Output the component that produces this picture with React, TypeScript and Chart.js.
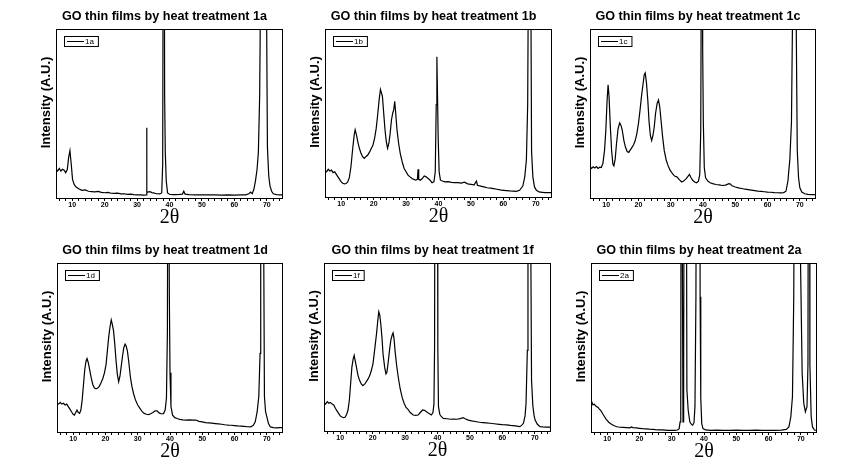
import React, { useEffect, useRef } from 'react';
import { Chart, registerables } from 'chart.js';

Chart.register(...registerables);

// ---------------- data ----------------
const TITLE_PREFIX = 'GO thin films by heat treatment ';
const Y_TITLE = 'Intensity (A.U.)';
const X_TITLE = '2θ';
const X_MIN = 5;
const X_MAX = 75;
const Y_MIN = 0;
const Y_MAX = 100;
const majorTicks = [10, 20, 30, 40, 50, 60, 70];
const minorTicks = [6, 8, 12, 14, 16, 18, 22, 24, 26, 28, 32, 34, 36, 38, 42, 44, 46, 48, 52, 54, 56, 58, 62, 64, 66, 68, 72, 74];

const samples = ['1a', '1b', '1c', '1d', '1f', '2a'];

const angles1a = [5, 5.5, 6, 6.5, 7, 7.5, 8, 8.5, 8.9, 9.3, 9.7, 10.1, 10.6, 11.2, 12, 13, 14, 15, 16, 17, 18, 19, 20, 21, 22, 23, 24, 25, 26, 27, 28, 29, 30, 31, 32, 32.85, 32.95, 33.05, 33.3, 34, 34.5, 35, 36, 37, 37.6, 37.9, 38.1, 38.3, 38.5, 38.7, 39.0, 39.4, 40, 41, 42, 43, 44, 44.4, 44.8, 46, 48, 50, 52, 54, 56, 58, 60, 62, 63.5, 64.5, 65, 65.5, 66, 66.5, 67, 67.4, 67.8, 68.2, 69, 69.8, 70.2, 70.6, 71, 71.5, 72, 73, 74, 75];
const counts1a = [17, 16, 17.5, 16, 17, 16.5, 15, 17, 24, 28, 20, 11, 8, 6.5, 5.5, 4.5, 4.8, 4, 3.8, 3.6, 3.9, 3.3, 3.1, 3.3, 2.8, 2.7, 2.9, 2.4, 2.5, 2.2, 2.3, 2, 1.9, 1.8, 1.7, 1.8, 41.5, 3.8, 3.5, 3.8, 3.2, 3, 2.5, 2.4, 3, 20, 200, 250, 60, 27, 10, 3, 2.2, 2, 2, 2.1, 2.3, 4, 2.3, 2, 1.9, 1.8, 1.9, 1.8, 1.7, 1.8, 1.7, 1.8, 1.9, 2.5, 3.5, 2.5, 5, 10, 17, 27, 60, 150, 300, 150, 30, 13, 7, 4, 2.5, 2, 1.8, 1.8];

const angles1b = [5, 5.5, 6, 6.5, 7, 7.5, 8, 8.5, 9, 9.5, 10, 10.5, 11, 11.5, 12, 12.5, 13, 13.5, 14, 14.3, 14.7, 15.1, 15.6, 16.1, 16.6, 17.1, 17.6, 18.2, 18.8, 19.3, 19.8, 20.3, 20.8, 21.3, 21.7, 22.1, 22.4, 22.7, 23.1, 23.5, 23.9, 24.3, 24.7, 25.1, 25.5, 25.9, 26.2, 26.5, 26.8, 27.2, 27.7, 28.2, 28.8, 29.4, 30, 30.6, 31.2, 31.8, 32.4, 33, 33.5, 33.7, 33.9, 34.4, 35, 35.6, 36.2, 36.8, 37.4, 38, 38.6, 39.0, 39.3, 39.5, 39.7, 39.9, 40.2, 40.6, 41.2, 42, 43, 44, 45, 46, 47, 48, 49, 50, 51, 51.7, 52, 53, 54, 55, 56, 57, 58, 59, 60, 61, 62, 63, 64, 65, 66, 66.6, 67.1, 67.5, 67.9, 68.3, 68.7, 69.1, 69.6, 70.2, 71, 72, 73, 74, 75];
const counts1b = [16, 15, 16.5, 15.5, 16, 14.5, 15, 13.5, 12, 10.5, 9, 8.2, 7.8, 8, 9, 11.5, 18, 28, 37, 40, 37, 33, 29, 26, 24, 23, 24, 25, 27, 29, 31, 35, 41, 50, 58, 64, 62, 60, 50, 40, 33, 29, 32, 38, 46, 50, 52, 57, 50, 40, 32, 26, 21, 17, 15, 13, 12, 11, 10.5, 10, 10.5, 16.5, 10.5, 10, 11, 12.5, 12, 11, 10, 8.5, 9, 15, 55, 83.5, 60, 35, 15, 10, 9.5, 9, 9.2, 8.7, 8.5, 8.6, 8.3, 8.8, 7.8, 7.5, 7.2, 9.5, 7, 6.5, 6, 5.5, 5.3, 5, 4.6, 4.2, 4, 3.8, 3.6, 3.5, 3.4, 4, 6.5, 12, 22, 55, 200, 200, 27, 12, 6, 4, 3, 2.8, 2.6, 2.6, 2.6];

const angles1c = [5, 5.5, 6, 6.5, 7, 7.5, 8, 8.5, 9, 9.5, 9.9, 10.3, 10.6, 10.9, 11.3, 11.7, 12.1, 12.4, 12.8, 13.2, 13.7, 14.2, 14.6, 15, 15.5, 16, 16.5, 17, 17.5, 18, 18.5, 19, 19.5, 20, 20.5, 21, 21.4, 21.8, 22.1, 22.5, 22.9, 23.3, 23.7, 24.1, 24.5, 24.9, 25.3, 25.8, 26.2, 26.6, 27, 27.5, 28, 28.6, 29.2, 29.8, 30.5, 31.2, 31.9, 32.6, 33.4, 34, 34.8, 35.4, 35.8, 36.3, 36.8, 37.4, 38, 38.6, 39.0, 39.3, 39.5, 39.7, 39.9, 40.1, 40.4, 40.8, 41.5, 42.2, 43, 44, 45, 46, 47, 48, 48.5, 49, 50, 51, 52, 53, 54, 55, 56, 57, 58, 59, 60, 61, 62, 63, 64, 65, 65.7, 66.3, 66.9, 67.4, 67.8, 68.3, 68.8, 69.2, 69.6, 70, 70.6, 71.5, 72.5, 73.5, 75];
const counts1c = [18.5, 17.5, 18.5, 17.8, 18.6, 17.5, 18.2, 18, 20.5, 28, 40, 58, 67, 60, 42, 28, 20, 19, 23, 32, 41, 44.5, 43, 40, 34, 30, 27.5, 27, 28.5, 30, 31.5, 34, 38, 44, 52, 61, 67, 73, 74, 68, 58, 45, 37, 34, 37, 42, 50, 56, 58, 54, 46, 36, 28, 22.5, 19, 16.5, 14.5, 13, 12.5, 11, 9.5, 10, 11.5, 13, 14, 12, 10.5, 9.5, 9, 10, 14, 40, 150, 150, 88, 45, 18, 12, 10, 9, 8.5, 8, 7.8, 7.4, 7.6, 8.5, 8.2, 7.2, 6.5, 6, 5.6, 5.2, 5, 4.7, 4.4, 4.1, 3.9, 3.7, 3.5, 3.4, 3.2, 3.1, 3, 3.2, 4, 10, 23, 45, 120, 300, 120, 28, 12, 6, 3.5, 2.5, 2.2, 2, 2];

const angles1d = [5, 5.5, 6, 6.5, 7, 7.5, 8, 8.5, 9, 9.5, 10, 10.4, 10.8, 11.2, 11.6, 12, 12.4, 12.8, 13.2, 13.6, 14, 14.3, 14.7, 15.1, 15.6, 16.1, 16.6, 17.1, 17.6, 18.1, 18.6, 19.2, 19.7, 20.2, 20.6, 21, 21.4, 21.8, 22.1, 22.5, 22.9, 23.3, 23.7, 24.1, 24.5, 24.9, 25.3, 25.7, 26.1, 26.4, 26.8, 27.2, 27.7, 28.2, 28.7, 29.3, 30, 30.7, 31.4, 32, 32.7, 33.4, 34, 34.7, 35.4, 36, 36.6, 37.2, 38, 38.5, 38.9, 39.2, 39.4, 39.6, 39.8, 40.0, 40.3, 40.8, 41.5, 42.2, 43, 44, 45, 46, 47, 48, 49, 50, 51, 52, 53, 54, 55, 56, 57, 58, 59, 60, 61, 62, 63, 64, 65, 65.8, 66.4, 67, 67.5, 67.9, 68.1, 68.4, 68.8, 69.05, 69.25, 69.6, 70, 70.5, 71.1, 72, 73, 74, 75];
const counts1d = [17, 16.5, 17.5, 16.5, 17, 16, 16.5, 15, 13.5, 12, 10.5, 10, 11.5, 13, 11.5, 11, 13, 19, 28, 37, 42, 43.5, 41, 37, 32, 28, 26, 25.5, 26, 27, 29, 31.7, 35, 40, 48, 56, 62, 66.3, 64, 60, 52, 42, 34, 29.7, 33, 39, 45, 50, 52, 51, 48, 42, 33, 27, 22.8, 19, 16, 14, 12, 11, 10.5, 10.3, 10.8, 11.5, 12.5, 12.5, 11.3, 10.8, 10.9, 13, 20, 60, 250, 250, 80, 35, 15, 10, 8.5, 8, 7.5, 7.2, 7, 7.2, 7, 7.1, 6.3, 6, 5.6, 5.4, 5.2, 5, 4.8, 4.6, 4.3, 4.1, 4, 3.8, 3.6, 3.5, 3.3, 3.1, 3, 4, 6, 12, 21, 46.5, 100, 300, 300, 100, 21, 12, 9, 5, 3, 2.6, 2.5, 2.6, 2.6];

const angles1f = [5, 5.5, 6, 6.5, 7, 7.5, 8, 8.5, 9, 9.5, 10, 10.5, 11, 11.5, 12, 12.4, 12.8, 13.2, 13.6, 14, 14.3, 14.6, 15, 15.5, 16, 16.5, 17, 17.6, 18.1, 18.6, 19.1, 19.6, 20.1, 20.6, 21.2, 21.6, 21.9, 22.2, 22.5, 22.9, 23.2, 23.7, 24.1, 24.4, 24.8, 25.2, 25.6, 26, 26.3, 26.6, 26.9, 27.4, 27.9, 28.5, 29.1, 29.7, 30.3, 30.9, 31.6, 32.5, 33.3, 34, 34.7, 35.4, 36, 36.6, 37.3, 38.1, 38.6, 38.9, 39.1, 39.3, 39.9, 40.1, 40.3, 40.7, 41.2, 41.8, 43, 44, 45, 46, 47, 47.9, 48.5, 49.5, 50.5, 52, 53, 54, 55, 56.2, 57.5, 59, 60, 61.3, 62.5, 64, 65.4, 66, 66.5, 67, 67.3, 67.7, 67.9, 68.2, 68.6, 68.8, 69, 69.4, 69.8, 70.1, 70.8, 71.6, 72.5, 73.5, 75];
const counts1f = [17, 16, 17.5, 16.5, 17, 16, 15.5, 13.5, 12, 10.5, 9, 8.3, 8, 8.2, 10, 12.5, 18, 28, 38, 43, 45, 42, 38, 33, 30, 28, 27, 28, 29.5, 31, 33, 36, 40, 48, 58, 66, 71, 69, 64, 55, 46, 38, 34, 35, 41, 48, 54, 57, 58.4, 55, 48, 39, 32, 25, 20, 16.5, 14, 12.9, 11, 9.5, 9.3, 9.5, 11, 12.5, 12.3, 11.5, 10.5, 9.5, 11, 16, 50, 300, 300, 50, 14.5, 10, 8.5, 7.5, 7.3, 7, 7.1, 7, 7.4, 8, 7.3, 6.5, 6, 5.5, 5.2, 5, 4.8, 4.6, 4.3, 4, 3.8, 3.6, 3.3, 3, 2.6, 3.5, 4.6, 9, 16.4, 48, 150, 300, 300, 100, 30, 15, 9, 6.5, 4, 2.6, 2.4, 2.3, 2.3];

const angles2a = [5, 5.3, 5.6, 6, 6.4, 6.8, 7.2, 7.6, 8, 8.4, 8.8, 9.2, 9.6, 10, 10.5, 11, 12, 13, 14, 15, 16, 17, 17.5, 18, 19, 20, 21, 22, 23, 24, 25, 26, 27, 28, 29, 30, 31, 31.8, 32.3, 32.6, 32.8, 33.0, 33.3, 33.5, 33.7, 34.0, 34.4, 34.7, 35.1, 35.6, 36.1, 36.5, 36.9, 37.2, 37.5, 37.8, 38.6, 38.8, 39.0, 39.3, 39.7, 40.5, 42, 44, 46, 48, 50, 52, 54, 56, 58, 60, 62, 64, 65.5, 66.3, 66.9, 67.4, 67.8, 68.3, 69.5, 69.9, 70.4, 70.9, 71.4, 71.9, 72.2, 72.4, 72.6, 72.8, 73.2, 73.6, 74.2, 75];
const counts2a = [16.8, 17.5, 16, 16.5, 15.5, 15, 14.5, 13.5, 12.8, 11.5, 10.2, 9, 7.8, 6.9, 5.8, 5, 3.8, 3.1, 2.8, 2.7, 2.6, 2.5, 3, 2.6, 2.4, 2.2, 2, 1.9, 1.7, 1.6, 1.4, 1.3, 1.2, 1.1, 1, 1, 1, 1.2, 2, 6, 20, 300, 100, 6, 40, 300, 300, 25, 13, 6, 4.5, 4, 5.5, 15, 80, 300, 300, 80, 20, 5, 2, 1.2, 1, 1.1, 1, 1, 1.1, 1, 1, 1.1, 1, 1, 1, 1.1, 1.5, 3, 9, 21, 80, 300, 300, 100, 35, 17, 12, 15, 40, 300, 300, 40, 9, 3, 1.2, 1];

const seriesAngles = [angles1a, angles1b, angles1c, angles1d, angles1f, angles2a];
const seriesCounts = [counts1a, counts1b, counts1c, counts1d, counts1f, counts2a];

// ---------------- layout (plot-area rectangles in page pixels) ----------------
const PLOT_RECTS = [
  { l: 56, t: 29, r: 283, b: 198 },
  { l: 325, t: 29, r: 552, b: 197 },
  { l: 590, t: 29, r: 816, b: 198 },
  { l: 57, t: 263, r: 283, b: 432 },
  { l: 324, t: 263, r: 551, b: 431 },
  { l: 591, t: 263, r: 817, b: 432 },
];

const FONT = "'Liberation Sans', Arial, sans-serif";

const framePlugin = {
  id: 'frameBox',
  afterDatasetsDraw(chart: any) {
    const { ctx, chartArea } = chart;
    ctx.save();
    ctx.strokeStyle = '#000';
    ctx.lineWidth = 1;
    ctx.strokeRect(Math.round(chartArea.left) + 0.5, Math.round(chartArea.top) + 0.5,
      Math.round(chartArea.right - chartArea.left) - 1, Math.round(chartArea.bottom - chartArea.top));
    ctx.restore();
  },
};

const yLabelPlugin = {
  id: 'yLabel',
  afterDraw(chart: any, _args: any, opts: any) {
    const { ctx, chartArea } = chart;
    ctx.save();
    ctx.translate(chartArea.left - 10, (chartArea.top + chartArea.bottom) / 2 - 11);
    ctx.rotate(-Math.PI / 2);
    ctx.font = `bold 13px ${FONT}`;
    ctx.fillStyle = '#000';
    ctx.textAlign = 'center';
    ctx.textBaseline = 'middle';
    ctx.fillText(opts.text, 0, 0);
    ctx.restore();
  },
};

const legendBoxPlugin = {
  id: 'legendBox',
  afterDraw(chart: any) {
    const { ctx, chartArea } = chart;
    const label = chart.data.datasets[0].label;
    const x = Math.round(chartArea.left) + 8;
    const y = Math.round(chartArea.top) + 7;
    ctx.save();
    ctx.font = `8px ${FONT}`;
    const tw = ctx.measureText(label).width;
    const w = 22 + tw + 3;
    ctx.fillStyle = '#fff';
    ctx.fillRect(x, y, w, 10);
    ctx.strokeStyle = '#000';
    ctx.lineWidth = 1;
    ctx.strokeRect(x + 0.5, y + 0.5, w, 10);
    ctx.beginPath();
    ctx.moveTo(x + 3, y + 5.5);
    ctx.lineTo(x + 20, y + 5.5);
    ctx.stroke();
    ctx.fillStyle = '#000';
    ctx.textBaseline = 'middle';
    ctx.fillText(label, x + 21, y + 6);
    ctx.restore();
  },
};

function Panel({ index }: { index: number }) {
  const ref = useRef<HTMLCanvasElement | null>(null);
  const rect = PLOT_RECTS[index];
  const cx = rect.l - 56;
  const cy = rect.t - 29;
  const W = rect.r - rect.l + 63;
  const H = rect.b - rect.t + 63;

  useEffect(() => {
    if (!ref.current) return;
    const angles = seriesAngles[index];
    const counts = seriesCounts[index];
    const allTicks = [...majorTicks, ...minorTicks].sort((a, b) => a - b);
    const chart = new Chart(ref.current, {
      type: 'line',
      data: {
        datasets: [
          {
            label: samples[index],
            data: angles.map((a, i) => ({ x: a, y: counts[i] })),
            borderColor: '#000',
            borderWidth: 1.2,
            pointRadius: 0,
            tension: 0,
            fill: false,
          },
        ],
      },
      options: {
        responsive: false,
        animation: false,
        devicePixelRatio: 1,
        layout: { padding: { left: 46, right: 7, top: 0, bottom: 0 } },
        plugins: {
          legend: { display: false },
          tooltip: { enabled: false },
          title: {
            display: true,
            text: TITLE_PREFIX + samples[index],
            color: '#000',
            font: { family: FONT, size: 12.6, weight: 'bold', lineHeight: 1.2 },
            padding: { top: 9, bottom: 4.9 },
          },
          yLabel: { text: Y_TITLE },
        } as any,
        scales: {
          x: {
            type: 'linear',
            min: X_MIN,
            max: X_MAX,
            afterBuildTicks: (scale: any) => {
              scale.ticks = allTicks.map((v) => ({ value: v }));
            },
            afterFit: (scale: any) => {
              scale.height = 34;
            },
            ticks: {
              autoSkip: false,
              maxRotation: 0,
              color: '#000',
              padding: 0,
              font: { family: FONT, size: 7, weight: 'bold' },
              callback: (v: any) => (majorTicks.includes(Number(v)) ? String(v) : ''),
            },
            grid: { display: true, drawOnChartArea: false, drawTicks: true, tickLength: 3, color: '#000' },
            border: { display: false },
            title: {
              display: true,
              text: X_TITLE,
              color: '#000',
              font: { family: "'Liberation Serif', 'Times New Roman', serif", size: 20, lineHeight: 1 },
              padding: { top: 0, bottom: 4 },
            },
          },
          y: {
            type: 'linear',
            min: Y_MIN,
            max: Y_MAX,
            afterFit: (scale: any) => {
              scale.width = 10;
            },
            ticks: { display: false },
            grid: { display: false },
            border: { display: false },
          },
        },
      },
      plugins: [framePlugin, yLabelPlugin, legendBoxPlugin],
    } as any);
    return () => chart.destroy();
  }, [index]);

  return (
    <canvas
      ref={ref}
      width={W}
      height={H}
      style={{ position: 'absolute', left: cx, top: cy, width: W, height: H, display: 'block' }}
    />
  );
}

export default function App() {
  return (
    <div style={{ position: 'fixed', left: 0, top: 0, width: 862, height: 463, background: '#fff', overflow: 'hidden' }}>
      {samples.map((s, i) => (
        <Panel key={s} index={i} />
      ))}
    </div>
  );
}
